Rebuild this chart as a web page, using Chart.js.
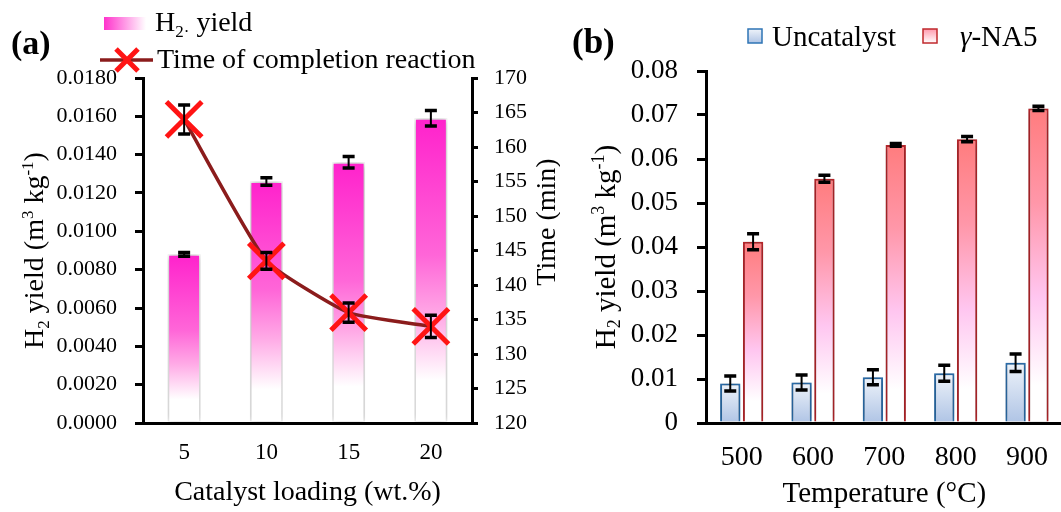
<!DOCTYPE html>
<html>
<head>
<meta charset="utf-8">
<script src="https://cdn.jsdelivr.net/npm/chart.js@4.4.1/dist/chart.umd.min.js"></script>
<style>
  html, body { margin: 0; padding: 0; background: #fff; overflow: hidden; }
  #wrap { position: relative; width: 1061px; height: 512px; overflow: hidden; }
  #boxA { position: absolute; left: 0; top: 0; width: 560px; height: 512px; }
  #boxB { position: absolute; left: 560px; top: 0; width: 506px; height: 512px; }
</style>
</head>
<body>
<div id="wrap">
  <div id="boxA"><canvas id="chartA"></canvas></div>
  <div id="boxB"><canvas id="chartB"></canvas></div>
</div>
<script>
const SERIF = '"Liberation Serif", "Times New Roman", serif';

// (a) effect of catalyst loading
const loading = ['5', '10', '15', '20'];
const h2Yield = [0.0088, 0.0126, 0.0136, 0.0159];
const h2YieldErr = [0.0001, 0.0002, 0.0003, 0.0004];
const reactionTime = [164, 143.5, 136, 134];
const reactionTimeErr = [2.1, 1.2, 1.4, 1.6];
const yieldTicksA = [0, 0.002, 0.004, 0.006, 0.008, 0.010, 0.012, 0.014, 0.016, 0.018];
const timeTicks = [120, 125, 130, 135, 140, 145, 150, 155, 160, 165, 170];

// (b) effect of temperature
const temps = ['500', '600', '700', '800', '900'];
const uncatalyst = [0.0090, 0.0092, 0.0104, 0.0113, 0.0137];
const uncatalystErr = [0.0017, 0.0017, 0.0017, 0.0018, 0.0020];
const na5 = [0.0412, 0.0555, 0.0632, 0.0645, 0.0715];
const na5Err = [0.0018, 0.0008, 0.0003, 0.0006, 0.0005];
const yieldTicksB = [0, 0.01, 0.02, 0.03, 0.04, 0.05, 0.06, 0.07, 0.08];

Chart.defaults.font.family = SERIF;
Chart.defaults.color = '#000';

const pinkStops = [[0, '#FF22CC'], [0.45, '#FF66D8'], [0.65, '#FFAAE6'], [0.86, '#FFFFFF']];
const blueStops = [[0, '#EEF3FA'], [1, '#AFC4E5']];
const redStops = [[0, '#FF7C7E'], [0.3, '#FF97A9'], [0.6, '#FFC6F0'], [0.88, '#FFFFFF']];

// vertical gradient running from the top of each bar down to zero
function barFill(stops) {
  return (c) => {
    const chart = c.chart;
    if (!chart.chartArea || c.type !== 'data') return stops[0][1];
    const scale = chart.scales[c.dataset.yAxisID || 'y'];
    const top = scale.getPixelForValue(c.raw);
    const base = scale.getPixelForValue(0);
    const g = chart.ctx.createLinearGradient(0, top, 0, base);
    stops.forEach(([o, col]) => g.addColorStop(o, col));
    return g;
  };
}

// text with sub/superscript runs
function drawRich(ctx, runs, x, y, size, align = 'left', angle = 0) {
  const fontOf = r => `${r.i ? 'italic ' : ''}${r.b ? 'bold ' : ''}${r.s ? Math.round(size * 0.62) : size}px ${SERIF}`;
  let width = 0;
  for (const r of runs) { ctx.font = fontOf(r); width += ctx.measureText(r.t).width; }
  ctx.save();
  ctx.translate(x, y);
  ctx.rotate(angle);
  ctx.fillStyle = '#000';
  ctx.textAlign = 'left';
  ctx.textBaseline = 'alphabetic';
  let cx = align === 'center' ? -width / 2 : 0;
  for (const r of runs) {
    ctx.font = fontOf(r);
    const dy = r.s === 'sub' ? size * 0.2 : r.s === 'sup' ? -size * 0.36 : 0;
    ctx.fillText(r.t, cx, size * 0.33 + dy);
    cx += ctx.measureText(r.t).width;
  }
  ctx.restore();
}

const yieldTitle = [{t: 'H'}, {t: '2', s: 'sub'}, {t: ' yield (m'}, {t: '3', s: 'sup'}, {t: ' kg'}, {t: '-1', s: 'sup'}, {t: ')'}];

const errorBars = {
  id: 'errorBars',
  afterDatasetsDraw(chart) {
    const ctx = chart.ctx;
    chart.data.datasets.forEach((ds, i) => {
      if (!ds.errors) return;
      const meta = chart.getDatasetMeta(i);
      const scale = chart.scales[meta.yAxisID];
      ctx.save();
      ctx.strokeStyle = '#000';
      meta.data.forEach((el, j) => {
        const hi = scale.getPixelForValue(ds.data[j] + ds.errors[j]);
        const lo = scale.getPixelForValue(ds.data[j] - ds.errors[j]);
        ctx.lineWidth = 2;
        ctx.beginPath();
        ctx.moveTo(el.x, hi); ctx.lineTo(el.x, lo);
        ctx.stroke();
        ctx.lineWidth = 3.5;
        ctx.beginPath();
        ctx.moveTo(el.x - 6, hi); ctx.lineTo(el.x + 6, hi);
        ctx.moveTo(el.x - 6, lo); ctx.lineTo(el.x + 6, lo);
        ctx.stroke();
      });
      ctx.restore();
    });
  }
};

// soft grey glow behind the bars
const barGlow = {
  id: 'barGlow',
  beforeDatasetDraw(chart, args) {
    if (args.meta.type !== 'bar') return;
    chart.ctx.save();
    chart.ctx.shadowColor = 'rgba(0,0,0,0.4)';
    chart.ctx.shadowBlur = 7;
  },
  afterDatasetDraw(chart, args) {
    if (args.meta.type !== 'bar') return;
    chart.ctx.restore();
  }
};

function yAxis(ticks, fmt, size, tickLength, padding) {
  return {
    min: ticks[0], max: ticks[ticks.length - 1],
    afterBuildTicks: s => { s.ticks = ticks.map(v => ({value: v})); },
    ticks: {font: {size}, padding, callback: fmt},
    grid: {drawOnChartArea: false, drawTicks: true, tickLength, color: '#000', lineWidth: 3},
    border: {color: '#000', width: 3}
  };
}

const keyA = {
  id: 'keyA',
  afterDraw(chart) {
    const ctx = chart.ctx;
    drawRich(ctx, [{t: '(a)', b: true}], 11, 43, 34);

    const g = ctx.createLinearGradient(104, 0, 146, 0);
    g.addColorStop(0, '#FF33CC');
    g.addColorStop(1, '#FFFFFF');
    ctx.fillStyle = g;
    ctx.fillRect(104, 17, 42, 13);
    drawRich(ctx, [{t: 'H'}, {t: '2·', s: 'sub'}, {t: ' yield'}], 155, 22, 28);

    const line = chart.data.datasets[0];
    ctx.save();
    ctx.strokeStyle = line.borderColor;
    ctx.lineWidth = line.borderWidth;
    ctx.beginPath(); ctx.moveTo(100, 60); ctx.lineTo(153, 60); ctx.stroke();
    ctx.strokeStyle = line.pointBorderColor;
    ctx.lineWidth = line.pointBorderWidth;
    const r = 11;
    ctx.beginPath();
    ctx.moveTo(127 - r, 60 - r); ctx.lineTo(127 + r, 60 + r);
    ctx.moveTo(127 - r, 60 + r); ctx.lineTo(127 + r, 60 - r);
    ctx.stroke();
    ctx.restore();
    drawRich(ctx, [{t: 'Time of completion reaction'}], 157, 59, 28);

    const {top, bottom} = chart.chartArea;
    drawRich(ctx, yieldTitle, 34, (top + bottom) / 2, 28, 'center', -Math.PI / 2);
    drawRich(ctx, [{t: 'Time (min)'}], 546, 222, 28, 'center', -Math.PI / 2);
  }
};

new Chart(document.getElementById('chartA'), {
  type: 'bar',
  data: {
    labels: loading,
    datasets: [
      {
        type: 'line', label: 'Time of completion reaction', data: reactionTime, errors: reactionTimeErr,
        yAxisID: 'y1', order: 0, tension: 0.15,
        borderColor: '#8B1C1C', borderWidth: 3.5,
        pointStyle: 'crossRot', pointRadius: 25, pointBorderWidth: 5,
        pointBorderColor: '#FF1414', pointBackgroundColor: '#FF1414'
      },
      {
        type: 'bar', label: 'H2 yield', data: h2Yield, errors: h2YieldErr,
        yAxisID: 'y', order: 1,
        backgroundColor: barFill(pinkStops), borderColor: 'rgba(255,255,255,0.95)', borderWidth: 1.5,
        barPercentage: 0.4, categoryPercentage: 1
      }
    ]
  },
  options: {
    responsive: true, maintainAspectRatio: false, animation: false, events: [],
    layout: {padding: {top: 78, left: 0, right: 0, bottom: 0}},
    plugins: {legend: {display: false}, tooltip: {enabled: false}},
    scales: {
      x: {
        offset: true,
        afterFit: s => { s.height = 89; },
        ticks: {font: {size: 23}, padding: 16},
        grid: {display: false, drawTicks: false},
        border: {color: '#000', width: 3},
        title: {display: true, text: 'Catalyst loading (wt.%)', font: {size: 28}, padding: {top: 0, bottom: 3}}
      },
      y: Object.assign(yAxis(yieldTicksA, v => v.toFixed(4), 22, 8, 18), {
        position: 'left', afterFit: s => { s.width = 143; }
      }),
      y1: Object.assign(yAxis(timeTicks, v => String(v), 22, 6, 16), {
        position: 'right', afterFit: s => { s.width = 88; }
      })
    }
  },
  plugins: [barGlow, errorBars, keyA]
});

const keyB = {
  id: 'keyB',
  afterDraw(chart) {
    const ctx = chart.ctx;
    drawRich(ctx, [{t: '(b)', b: true}], 12, 41, 35);

    const swatch = (x, stops, border) => {
      const g = ctx.createLinearGradient(0, 29, 0, 43);
      stops.forEach(([o, col]) => g.addColorStop(o, col));
      ctx.fillStyle = g;
      ctx.fillRect(x, 29, 14, 14);
      ctx.strokeStyle = border;
      ctx.lineWidth = 1.5;
      ctx.strokeRect(x, 29, 14, 14);
    };
    const [ds1, ds2] = chart.data.datasets;
    swatch(188, blueStops, ds1.borderColor);
    drawRich(ctx, [{t: 'Uncatalyst'}], 212, 36, 29);
    swatch(363, [[0, '#FF9AAE'], [1, '#FFFFFF']], ds2.borderColor);
    drawRich(ctx, [{t: 'γ', i: true}, {t: '-NA5'}], 400, 36, 29);

    const {top, bottom} = chart.chartArea;
    drawRich(ctx, yieldTitle, 45, (top + bottom) / 2, 29, 'center', -Math.PI / 2);
  }
};

new Chart(document.getElementById('chartB'), {
  type: 'bar',
  data: {
    labels: temps,
    datasets: [
      {
        label: 'Uncatalyst', data: uncatalyst, errors: uncatalystErr,
        backgroundColor: barFill(blueStops), borderColor: '#2E74B5', borderWidth: 2,
        barPercentage: 0.89, categoryPercentage: 0.64
      },
      {
        label: 'γ-NA5', data: na5, errors: na5Err,
        backgroundColor: barFill(redStops), borderColor: '#C0282D', borderWidth: 2,
        barPercentage: 0.89, categoryPercentage: 0.64
      }
    ]
  },
  options: {
    responsive: true, maintainAspectRatio: false, animation: false, events: [],
    layout: {padding: {top: 71, left: 0, right: 0, bottom: 0}},
    plugins: {legend: {display: false}, tooltip: {enabled: false}},
    scales: {
      x: {
        offset: true,
        afterFit: s => { s.height = 89; },
        ticks: {font: {size: 28}, padding: 18},
        grid: {display: false, drawTicks: false},
        border: {color: '#000', width: 3},
        title: {display: true, text: 'Temperature (°C)', font: {size: 29}, padding: {top: 0, bottom: 0}}
      },
      y: Object.assign(yAxis(yieldTicksB, v => (v === 0 ? '0' : v.toFixed(2)), 27, 9, 19), {
        position: 'left', afterFit: s => { s.width = 146; }
      })
    }
  },
  plugins: [barGlow, errorBars, keyB]
});
</script>
</body>
</html>
